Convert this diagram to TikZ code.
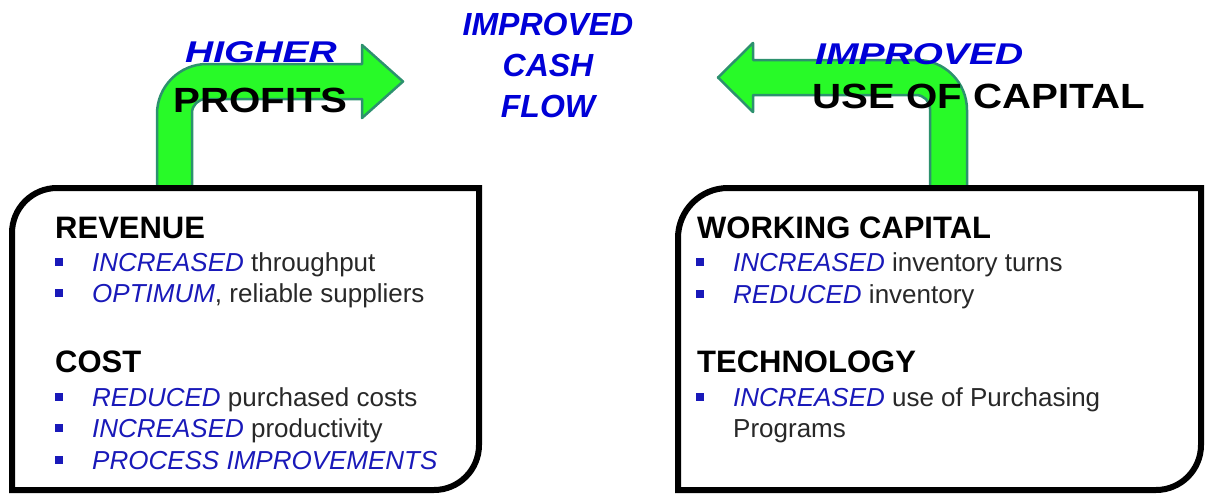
\documentclass[tikz,border=0pt]{standalone}
\usepackage{fontspec}
\setmainfont{Liberation Sans}
\newfontfamily\widesans[FakeStretch=1.3]{Liberation Sans}
\newfontfamily\halfwidesans[FakeStretch=1.15]{Liberation Sans}
\usetikzlibrary{positioning}

\definecolor{arrowgreen}{RGB}{40,250,40}
\definecolor{arrowedge}{RGB}{45,145,110}
\definecolor{kwblue}{RGB}{25,25,185}
\definecolor{titleblue}{RGB}{0,0,215}
\definecolor{bodygray}{RGB}{40,40,40}

\newcommand{\kw}[1]{\textcolor{kwblue}{\itshape #1}}

\begin{document}
\begin{tikzpicture}[x=1pt, y=-1pt,
  bigarrow/.style={fill=arrowgreen, draw=arrowedge, line width=2.5pt, line join=round},
  panel/.style={draw=black, fill=white, line width=6pt},
  heading/.style={anchor=base west, inner sep=0pt, font=\fontsize{31}{31}\selectfont\bfseries},
  itemtext/.style={anchor=base west, inner sep=0pt, text=bodygray, font=\fontsize{26}{31}\selectfont},
  bulletsq/.style={fill=kwblue, minimum size=8pt, inner sep=0pt},
  flowtext/.style={anchor=base, inner sep=0pt, text=titleblue, font=\fontsize{32}{32}\selectfont\bfseries\itshape},
  bluelabel/.style={anchor=base west, inner sep=0pt, text=titleblue, font=\fontsize{30}{30}\selectfont\widesans\bfseries\itshape},
  blacklabel/.style={anchor=base west, inner sep=0pt, font=\fontsize{35}{35}\selectfont\halfwidesans\bfseries}
]
\useasboundingbox (0,0) rectangle (1205,493);

% bullet line: name, x, baseline, text
\newcommand{\bitem}[4]{
\node[itemtext] (#1) at (#2,#3) {#4};
\node[bulletsq, left=29pt of #1.base west, yshift=9pt] (#1-sq) {};
}

% ARROWS
\draw[bigarrow] (157,190) -- (157,114) arc (180:270:50) -- (362,64)
  -- (362,45) -- (403,81.5) -- (362,118) -- (362,99)
  -- (206,99) arc (270:180:14) -- (192,190) -- cycle;
\draw[bigarrow] (930,190) -- (930,109) arc (0:-90:14) -- (753,95)
  -- (753,112) -- (718,77.5) -- (753,43) -- (753,60)
  -- (917,60) arc (270:360:50) -- (967,190) -- cycle;

% arrow labels
\node[bluelabel] (higher) at (185,62) {HIGHER};
\node[blacklabel] (profits) at (173,112) {PROFITS};
\node[bluelabel] (improved) at (815,64) {IMPROVED};
\node[blacklabel] (capital) at (812,108) {USE OF CAPITAL};

% cash flow in the middle
\foreach \w/\yy in {IMPROVED/35, CASH/76, FLOW/117}
  \node[flowtext] (flow-\w) at (548,\yy) {\w};

% BOXES
\draw[panel] (12,490) -- (12,233) arc (180:270:45) -- (479,188)
  -- (479,445) arc (0:90:45) -- cycle;
\draw[panel] (678,490) -- (678,238) arc (180:270:50) -- (1201,188)
  -- (1201,445) arc (0:90:45) -- cycle;

% left box
\node[heading] (revenue) at (55,238) {REVENUE};
\bitem{rev1}{92}{271}{\kw{INCREASED} throughput}
\bitem{rev2}{92}{302}{\kw{OPTIMUM}, reliable suppliers}
\node[heading] (cost) at (55,372) {COST};
\bitem{cost1}{92}{406}{\kw{REDUCED} purchased costs}
\bitem{cost2}{92}{437}{\kw{INCREASED} productivity}
\bitem{cost3}{92}{469}{\kw{PROCESS IMPROVEMENTS}}

% right box
\node[heading] (working) at (697,238) {WORKING CAPITAL};
\bitem{wc1}{733}{271}{\kw{INCREASED} inventory turns}
\bitem{wc2}{733}{303}{\kw{REDUCED} inventory}
\node[heading] (tech) at (697,372) {TECHNOLOGY};
\bitem{tech1}{733}{406}{\kw{INCREASED} use of Purchasing}
\node[itemtext] (tech1-b) at ([yshift=-31pt]tech1.base west) {Programs};

\end{tikzpicture}
\end{document}
